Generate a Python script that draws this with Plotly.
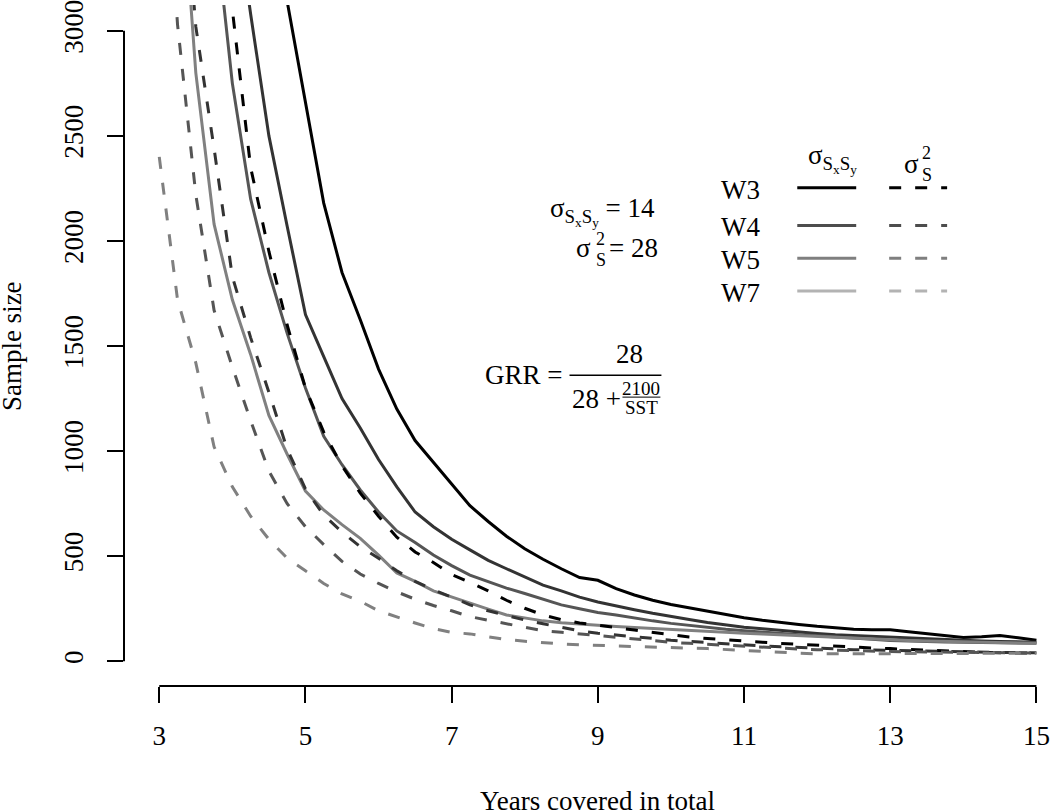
import plotly.graph_objects as go

# ---------------- data ----------------
years = [3.0, 3.25, 3.5, 3.75, 4.0, 4.25, 4.5, 4.75, 5.0, 5.25, 5.5, 5.75, 6.0, 6.25, 6.5, 6.75,
         7.0, 7.25, 7.5, 7.75, 8.0, 8.25, 8.5, 8.75, 9.0, 9.25, 9.5, 9.75, 10.0, 10.25, 10.5, 10.75,
         11.0, 11.25, 11.5, 11.75, 12.0, 12.25, 12.5, 12.75, 13.0, 13.25, 13.5, 13.75, 14.0, 14.25,
         14.5, 14.75, 15.0]

w3_sxsy = [12000, 9500, 7600, 6200, 5100, 4300, 3650, 3140, 2660, 2180, 1850, 1625, 1390, 1200, 1050, 945,
           840, 740, 665, 595, 535, 485, 440, 398, 385, 345, 315, 290, 270, 254, 240, 222,
           207, 195, 184, 175, 166, 160, 152, 150, 150, 140, 130, 120, 113, 116, 122, 112, 100]
w4_sxsy = [8000, 6500, 5300, 4400, 3700, 3080, 2500, 2070, 1650, 1450, 1250, 1110, 960, 830, 710, 640,
           580, 530, 480, 440, 400, 362, 335, 305, 282, 262, 245, 228, 212, 198, 184, 172,
           162, 154, 146, 138, 132, 126, 122, 118, 113, 110, 105, 102, 99, 96, 94, 92, 90]
w5_sxsy = [7000, 5600, 4500, 3550, 2750, 2200, 1850, 1560, 1300, 1070, 935, 815, 710, 620, 565, 505,
           455, 410, 378, 348, 322, 295, 268, 250, 232, 220, 205, 192, 180, 170, 160, 152,
           145, 138, 132, 126, 121, 116, 112, 104, 98, 95, 93, 91, 90, 89, 88, 86, 85]
w7_sxsy = [5200, 4000, 2800, 2080, 1720, 1460, 1170, 985, 810, 720, 650, 585, 505, 420, 380, 335,
           305, 275, 248, 220, 205, 192, 183, 176, 170, 165, 160, 155, 150, 146, 141, 137,
           133, 129, 125, 121, 117, 112, 108, 104, 100, 98, 96, 94, 92, 90, 88, 86, 85]

w3_s2 = [8500, 6700, 5300, 4100, 3100, 2350, 1950, 1600, 1300, 1090, 930, 800, 690, 590, 520, 470,
         412, 375, 335, 290, 252, 220, 198, 182, 172, 160, 148, 136, 125, 115, 108, 101,
         96, 90, 85, 80, 77, 73, 68, 63, 60, 56, 52, 48, 45, 42, 40, 39, 38]
w4_s2 = [5500, 4100, 3020, 2440, 1830, 1540, 1280, 1010, 820, 695, 615, 545, 490, 430, 380, 340,
         305, 268, 240, 218, 196, 178, 160, 145, 133, 124, 115, 107, 100, 94, 88, 83,
         78, 73, 69, 65, 61, 58, 55, 53, 51, 49, 47, 45, 44, 43, 42, 41, 40]
w5_s2 = [4300, 3030, 2220, 1670, 1400, 1145, 905, 750, 640, 555, 475, 415, 370, 330, 295, 265,
         240, 212, 195, 178, 160, 145, 138, 130, 122, 112, 104, 96, 90, 85, 80, 75,
         70, 66, 62, 58, 55, 52, 50, 48, 46, 45, 44, 43, 42, 41, 40, 39, 39]
w7_s2 = [2400, 1720, 1420, 1020, 830, 690, 580, 490, 430, 370, 320, 285, 240, 210, 182, 155,
         137, 130, 115, 103, 95, 88, 82, 78, 75, 71, 68, 66, 64, 62, 60, 55,
         50, 45, 42, 38, 35, 34, 34, 35, 36, 36, 37, 37, 37, 38, 38, 38, 38]

wave_names = ["W3", "W4", "W5", "W7"]
x_ticks = [3, 5, 7, 9, 11, 13, 15]
y_ticks = [0, 500, 1000, 1500, 2000, 2500, 3000]

# ---------------- style ----------------
FONT = "Liberation Serif, Times New Roman, serif"
plot_colors = ["#000000", "#333333", "#555555", "#808080"]
legend_colors = ["#000000", "#4d4d4d", "#7f7f7f", "#b3b3b3"]
DASH = "12px,14px"

W, H = 1050, 812
L, R, T, B = 124, 0, 0, 126
PW, PH = W - L - R, H - T - B
X_RANGE = [2.5176, 15.172]
Y_RANGE = [-118.0, 3123.0]


def px(xp):
    return (xp - L) / PW


def py(yp):
    return (T + PH - yp) / PH


def x_to_paper(v):
    return (v - X_RANGE[0]) / (X_RANGE[1] - X_RANGE[0])


def y_to_paper(v):
    return (v - Y_RANGE[0]) / (Y_RANGE[1] - Y_RANGE[0])


fig = go.Figure()

solid_series = [w3_sxsy, w4_sxsy, w5_sxsy, w7_sxsy]
dashed_series = [w3_s2, w4_s2, w5_s2, w7_s2]

for name, vals, col in zip(wave_names, solid_series, plot_colors):
    fig.add_trace(go.Scatter(x=years, y=vals, mode="lines", name=name + " σSxSy",
                             line=dict(color=col, width=3), showlegend=False))
for name, vals, col in zip(wave_names, dashed_series, plot_colors):
    fig.add_trace(go.Scatter(x=years, y=vals, mode="lines", name=name + " σ²S",
                             line=dict(color=col, width=3, dash=DASH), showlegend=False))

shapes = []
# axis lines (R style: only span the tick range)
shapes.append(dict(type="line", xref="paper", yref="paper",
                   x0=x_to_paper(x_ticks[0]), x1=x_to_paper(x_ticks[-1]), y0=0, y1=0,
                   line=dict(color="black", width=2)))
shapes.append(dict(type="line", xref="paper", yref="paper",
                   x0=0, x1=0, y0=y_to_paper(y_ticks[0]), y1=y_to_paper(y_ticks[-1]),
                   line=dict(color="black", width=2)))

annotations = []


def ann(text, x, y, size=27, xanchor="center", yanchor="middle", angle=0):
    annotations.append(dict(text=text, x=px(x), y=py(y), xref="paper", yref="paper",
                            showarrow=False, xanchor=xanchor, yanchor=yanchor,
                            textangle=angle, font=dict(family=FONT, size=size, color="black")))


# axis titles
ann("Sample size", 12, 343.5, angle=-90)
ann("Years covered in total", 598, 802)

# legend block
legend_rows = [184, 222, 255, 288]
for name, yrow, col in zip(wave_names, legend_rows, legend_colors):
    ann(name, 741, yrow + 2)
    shapes.append(dict(type="line", xref="paper", yref="paper",
                       x0=px(798), x1=px(857), y0=py(yrow), y1=py(yrow),
                       line=dict(color=col, width=3)))
    shapes.append(dict(type="line", xref="paper", yref="paper",
                       x0=px(890), x1=px(948), y0=py(yrow), y1=py(yrow),
                       line=dict(color=col, width=3, dash=DASH)))

ann("σ<sub>S<sub>x</sub>S<sub>y</sub></sub>", 807, 155, xanchor="left")
ann("σ", 903, 160, xanchor="left")
ann("2", 921, 149, size=18, xanchor="left")
ann("S", 921, 171, size=18, xanchor="left")

# parameter text
ann("σ<sub>S<sub>x</sub>S<sub>y</sub></sub> = 14", 658, 208, xanchor="right")
ann("= 28", 608, 245, xanchor="left")
ann("σ", 594, 245, xanchor="right")
ann("2", 595, 236, size=18, xanchor="left")
ann("S", 595, 257, size=18, xanchor="left")

# GRR formula
ann("GRR =", 565, 373, xanchor="right")
shapes.append(dict(type="line", xref="paper", yref="paper",
                   x0=px(570), x1=px(662), y0=py(373), y1=py(373),
                   line=dict(color="black", width=1.5)))
ann("28", 630, 352)
ann("28 +", 570, 397, xanchor="left")
ann("2100", 642, 386, size=19)
shapes.append(dict(type="line", xref="paper", yref="paper",
                   x0=px(623), x1=px(661), y0=py(395), y1=py(395),
                   line=dict(color="black", width=1)))
ann("SST", 642, 405, size=19)

axis_common = dict(showgrid=False, zeroline=False, showline=False, ticks="outside",
                   ticklen=16, tickwidth=2, tickcolor="black", ticklabeloverflow="allow",
                   tickfont=dict(family=FONT, size=27, color="black"))

fig.update_layout(
    width=W, height=H,
    margin=dict(l=L, r=R, t=T, b=B, pad=0),
    paper_bgcolor="white", plot_bgcolor="white",
    showlegend=False,
    xaxis=dict(range=X_RANGE, tickvals=x_ticks, ticktext=[str(v) for v in x_ticks],
               ticklabelstandoff=10, **axis_common),
    yaxis=dict(range=Y_RANGE, tickvals=y_ticks, ticktext=[str(v) for v in y_ticks],
               tickangle=-90, ticklabelstandoff=13, **axis_common),
    shapes=shapes,
    annotations=annotations,
)

fig.write_html("out.html", config={"displayModeBar": False},
               post_script="document.body.style.margin='0px';document.body.style.overflow='hidden';")
